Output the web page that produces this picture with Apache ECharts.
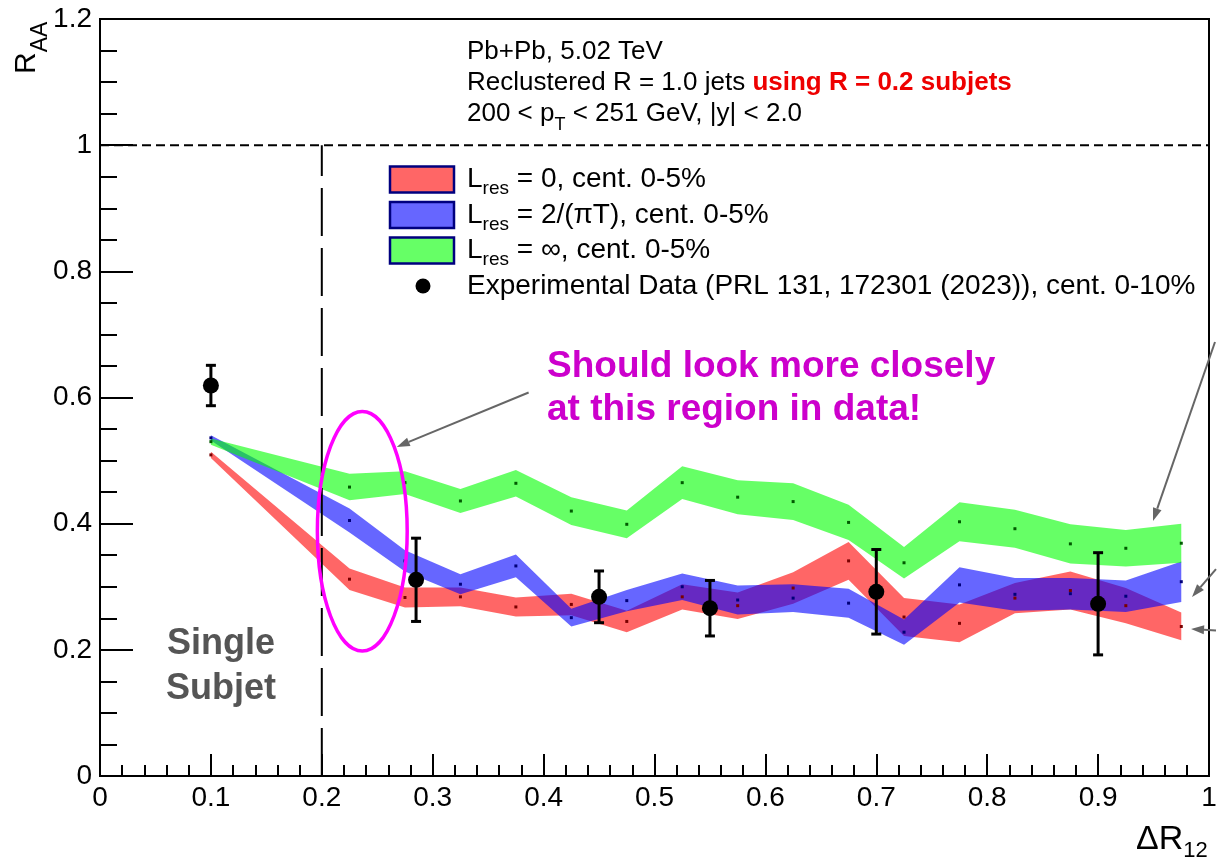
<!DOCTYPE html>
<html>
<head>
<meta charset="utf-8">
<title>RAA vs dR12</title>
<script src="https://cdn.jsdelivr.net/npm/echarts@6/dist/echarts.min.js"></script>
<style>
  html, body { margin: 0; padding: 0; background: #fff; }
  #main { width: 1217px; height: 862px; }
</style>
</head>
<body>
<div id="main"></div>
<script>
// bin centres of the model bands
const xs = [0.1, 0.225, 0.275, 0.325, 0.375, 0.425, 0.475, 0.525, 0.575, 0.625, 0.675, 0.725, 0.775, 0.825, 0.875, 0.925, 0.975];

// L_res = 0 (red)
const redMid = [0.509, 0.312, 0.283, 0.284, 0.268, 0.272, 0.245, 0.284, 0.270, 0.298, 0.341, 0.252, 0.242, 0.282, 0.294, 0.270, 0.237];
const redErr = [0.005, 0.017, 0.016, 0.015, 0.015, 0.017, 0.017, 0.020, 0.021, 0.025, 0.030, 0.030, 0.030, 0.024, 0.030, 0.028, 0.022];

// L_res = 2/(pi T) (blue)
const blueMid = [0.536, 0.405, 0.341, 0.304, 0.333, 0.251, 0.278, 0.300, 0.279, 0.282, 0.274, 0.228, 0.303, 0.288, 0.289, 0.285, 0.308];
const blueErr = [0.004, 0.019, 0.017, 0.016, 0.018, 0.014, 0.017, 0.021, 0.023, 0.022, 0.023, 0.020, 0.028, 0.026, 0.025, 0.025, 0.032];

// L_res = inf (green)
const greenMid = [0.530, 0.458, 0.465, 0.436, 0.464, 0.420, 0.399, 0.465, 0.442, 0.435, 0.402, 0.338, 0.403, 0.392, 0.368, 0.361, 0.369];
const greenErr = [0.005, 0.021, 0.018, 0.019, 0.021, 0.022, 0.022, 0.026, 0.027, 0.029, 0.028, 0.025, 0.031, 0.030, 0.031, 0.029, 0.031];

// experimental data, cent. 0-10%
const dataX = [0.1, 0.285, 0.45, 0.55, 0.7, 0.9];
const dataY = [0.619, 0.311, 0.284, 0.266, 0.292, 0.273];
const dataErr = [0.032, 0.066, 0.041, 0.044, 0.067, 0.081];

const FONT = '"Liberation Sans", Arial, sans-serif';
const MID = 0.35; // em-centre above the alphabetic baseline

const measureCtx = document.createElement('canvas').getContext('2d');
function textWidth(str, size, bold) {
    measureCtx.font = (bold ? 'bold ' : '') + size + 'px "Liberation Sans"';
    return measureCtx.measureText(str).width;
}

// 一行里面拼几段文字（用于下标）
function textRun(x, baseline, parts) {
    const out = [];
    let cx = x;
    parts.forEach(p => {
        const size = p.size || 26;
        out.push({
            type: 'text', x: cx, y: baseline + (p.dy || 0) - MID * size, silent: true, z: 100,
            style: {
                text: p.t, fontSize: size, fontFamily: FONT, fontWeight: p.bold ? 'bold' : 'normal',
                fill: p.color || '#000', align: 'left', verticalAlign: 'middle'
            }
        });
        cx += textWidth(p.t, size, p.bold);
    });
    return out;
}

function arrow(p1, p2) {
    const dx = p2[0] - p1[0], dy = p2[1] - p1[1];
    const L = Math.hypot(dx, dy), ux = dx / L, uy = dy / L;
    const hl = 13, hw = 4.5;
    const bx = p2[0] - ux * hl, by = p2[1] - uy * hl;
    return [
        { type: 'line', silent: true, z: 100, shape: { x1: p1[0], y1: p1[1], x2: bx, y2: by }, style: { stroke: '#666', lineWidth: 2 } },
        { type: 'polygon', silent: true, z: 100, shape: { points: [[p2[0], p2[1]], [bx - uy * hw, by + ux * hw], [bx + uy * hw, by - ux * hw]] }, style: { fill: '#666' } }
    ];
}

function bandSeries(mid, err, color) {
    return {
        type: 'custom', coordinateSystem: 'cartesian2d', clip: true, silent: true,
        data: xs.map((x, i) => [x, mid[i] - err[i], mid[i] + err[i]]),
        encode: { x: 0, y: [1, 2] },
        renderItem(params, api) {
            if (params.dataIndex !== 0) return null;
            const up = [], lo = [];
            for (let i = 0; i < xs.length; i++) {
                up.push(api.coord([xs[i], mid[i] + err[i]]));
                lo.push(api.coord([xs[i], mid[i] - err[i]]));
            }
            return { type: 'polygon', shape: { points: up.concat(lo.reverse()) }, style: { fill: color } };
        }
    };
}

function centreDots(mid, color) {
    return {
        type: 'scatter', silent: true, symbol: 'rect', symbolSize: 3,
        itemStyle: { color: color, opacity: 1 }, data: xs.map((x, i) => [x, mid[i]])
    };
}

const chart = echarts.init(document.getElementById('main'));

const tickStyle = { color: '#000', width: 2 };

chart.setOption({
    animation: false,
    backgroundColor: '#fff',
    grid: {
        left: 100, right: 8, top: 19, bottom: 86, containLabel: false, outerBoundsMode: 'none',
        show: true, borderColor: '#000', borderWidth: 2, backgroundColor: 'transparent'
    },
    xAxis: {
        type: 'value', min: 0, max: 1, interval: 0.1,
        axisLine: { onZero: false, lineStyle: tickStyle },
        axisTick: { inside: true, length: 22, lineStyle: tickStyle },
        minorTick: { show: true, splitNumber: 5, length: 11, lineStyle: tickStyle },
        axisLabel: { fontSize: 28, color: '#000', fontFamily: FONT, margin: 8, showMinLabel: true, showMaxLabel: true },
        splitLine: { show: false }
    },
    yAxis: {
        type: 'value', min: 0, max: 1.2, interval: 0.2,
        axisLine: { onZero: false, lineStyle: tickStyle },
        axisTick: { inside: true, length: 33, lineStyle: tickStyle },
        minorTick: { show: true, splitNumber: 4, length: 17, lineStyle: tickStyle },
        axisLabel: { fontSize: 28, color: '#000', fontFamily: FONT, margin: 8, showMinLabel: true, showMaxLabel: true },
        splitLine: { show: false }
    },
    series: [
        bandSeries(redMid, redErr, 'rgba(255,0,0,0.6)'),
        bandSeries(blueMid, blueErr, 'rgba(0,0,255,0.6)'),
        bandSeries(greenMid, greenErr, 'rgba(0,255,0,0.6)'),
        centreDots(redMid, '#7a0000'),
        centreDots(blueMid, '#00007a'),
        centreDots(greenMid, '#005a00'),
        {
            // R_AA = 1
            type: 'line', silent: true, symbol: 'none',
            lineStyle: { color: '#000', width: 2, type: [9, 5] },
            data: [[0, 1], [1, 1]]
        },
        {
            // single subjet boundary
            type: 'line', silent: true, symbol: 'none',
            lineStyle: { color: '#000', width: 2, type: [48, 12] },
            data: [[0.2, 0], [0.2, 1]]
        },
        {
            // error bars
            type: 'custom', silent: true, z: 5,
            data: dataX.map((x, i) => [x, dataY[i], dataErr[i]]),
            encode: { x: 0, y: 1 },
            renderItem(params, api) {
                const x = api.value(0), y = api.value(1), e = api.value(2);
                const top = api.coord([x, y + e]), bot = api.coord([x, y - e]);
                const s = { stroke: '#000', lineWidth: 3 };
                return {
                    type: 'group', children: [
                        { type: 'line', shape: { x1: top[0], y1: top[1], x2: bot[0], y2: bot[1] }, style: s },
                        { type: 'line', shape: { x1: top[0] - 5, y1: top[1], x2: top[0] + 5, y2: top[1] }, style: s },
                        { type: 'line', shape: { x1: bot[0] - 5, y1: bot[1], x2: bot[0] + 5, y2: bot[1] }, style: s }
                    ]
                };
            }
        },
        {
            type: 'scatter', silent: true, z: 6, symbol: 'circle', symbolSize: 16,
            itemStyle: { color: '#000', opacity: 1 },
            data: dataX.map((x, i) => [x, dataY[i]])
        }
    ]
});

// 注释部分（坐标转换后再画）
const px = p => chart.convertToPixel({ gridIndex: 0 }, p);

const graphics = [];

// axis titles
const yTitle = {
    type: 'group', x: 37, y: 74, rotation: Math.PI / 2, z: 100,
    children: textRun(0, 0, [{ t: 'R', size: 30 }, { t: 'AA', size: 23, dy: 11.5 }])
};
graphics.push(yTitle);
graphics.push(...textRun(1136, 852, [{ t: '\u0394R', size: 34 }, { t: '12', size: 22, dy: 7 }]));

// header text
graphics.push(...textRun(467, 61, [{ t: 'Pb+Pb, 5.02 TeV' }]));
graphics.push(...textRun(467, 92, [{ t: 'Reclustered R = 1.0 jets ' }, { t: 'using R = 0.2 subjets', bold: true, color: '#ee0000' }]));
graphics.push(...textRun(467, 123, [{ t: '200 < p' }, { t: 'T', size: 18, dy: 8 }, { t: ' < 251 GeV, |y| < 2.0' }]));

// legend
const legendRows = [
    { fill: '#ff6666', label: ' = 0, cent. 0-5%' },
    { fill: '#6666ff', label: ' = 2/(\u03c0T), cent. 0-5%' },
    { fill: '#66ff66', label: ' = \u221e, cent. 0-5%' }
];
legendRows.forEach((r, i) => {
    const cy = 179.5 + i * 35.5;
    graphics.push({
        type: 'rect', silent: true, z: 100,
        shape: { x: 390, y: cy - 13, width: 64, height: 26 },
        style: { fill: r.fill, stroke: '#00007f', lineWidth: 2.5 }
    });
    graphics.push(...textRun(467, cy + 10, [{ t: 'L', size: 28 }, { t: 'res', size: 19, dy: 6 }, { t: r.label, size: 28 }]));
});
graphics.push({ type: 'circle', silent: true, z: 100, shape: { cx: 423, cy: 286, r: 7.5 }, style: { fill: '#000' } });
graphics.push(...textRun(467, 296, [{ t: 'Experimental Data (PRL 131, 172301 (2023)), cent. 0-10%', size: 28 }]));

// single subjet label
['Single', 'Subjet'].forEach((t, i) => {
    graphics.push({
        type: 'text', silent: true, z: 100, x: 221, y: 657 + i * 45 - MID * 36,
        style: { text: t, fontSize: 36, fontWeight: 'bold', fontFamily: FONT, fill: '#555', align: 'center', verticalAlign: 'middle' }
    });
});

// magenta remark
graphics.push(...textRun(547, 380, [{ t: 'Should look more closely', size: 37, bold: true, color: '#cc00cc' }]));
graphics.push(...textRun(547, 423, [{ t: 'at this region in data!', size: 37, bold: true, color: '#cc00cc' }]));

// ellipse round the region just above dR = 0.2
const eC = px([0.2365, 0.388]);
const eE = px([0.2365 + 0.0405, 0.388 + 0.19]);
graphics.push({
    type: 'ellipse', silent: true, z: 100,
    shape: { cx: eC[0], cy: eC[1], rx: Math.abs(eE[0] - eC[0]), ry: Math.abs(eE[1] - eC[1]) },
    style: { fill: 'none', stroke: '#ff00ff', lineWidth: 3.5 }
});

graphics.push(...arrow(px([0.3865, 0.608]), px([0.2676, 0.5217])));
graphics.push(...arrow(px([1.0054, 0.688]), px([0.9495, 0.4043])));
graphics.push(...arrow(px([1.0063, 0.328]), px([0.9847, 0.2837])));
graphics.push(...arrow(px([1.0063, 0.2305]), px([0.9838, 0.2329])));

chart.setOption({ graphic: { elements: graphics } });
</script>
</body>
</html>
